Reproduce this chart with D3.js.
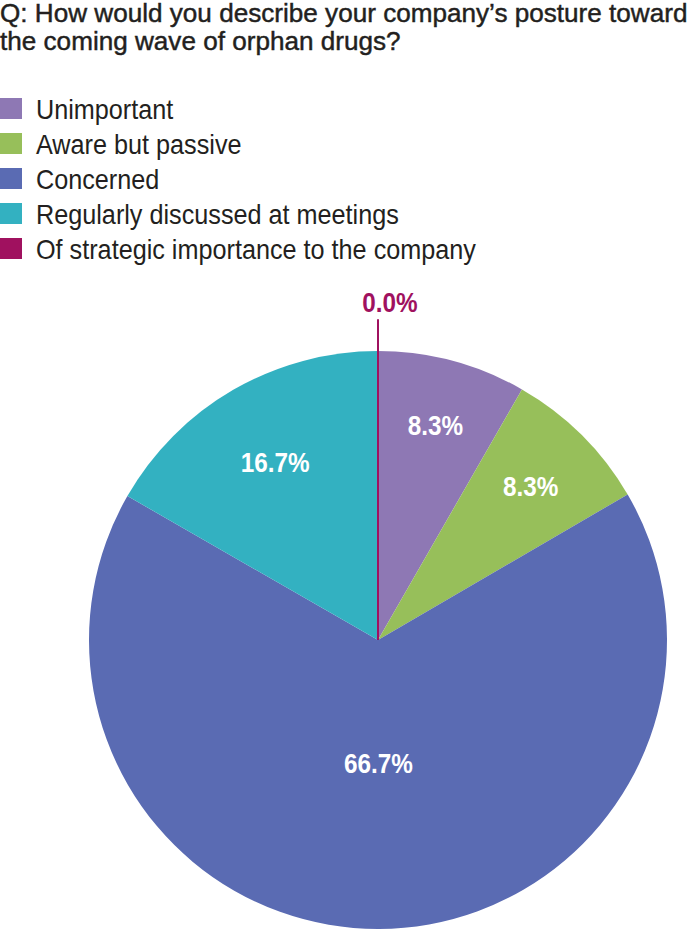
<!DOCTYPE html>
<html>
<head>
<meta charset="utf-8">
<script src="https://cdn.jsdelivr.net/npm/d3@7"></script>
<style>
  body { margin: 0; background: #fff; }
  text { font-family: "Liberation Sans", Arial, sans-serif; }
</style>
</head>
<body>
<div id="graf"></div>
<script>
// Datos
var titulo = [
  "Q: How would you describe your company\u2019s posture toward",
  "the coming wave of orphan drugs?"
];
var categorias = [
  "Unimportant",
  "Aware but passive",
  "Concerned",
  "Regularly discussed at meetings",
  "Of strategic importance to the company"
];
var valores = [8.3, 8.3, 66.7, 16.7, 0.0];
var colores = ["#8e78b4", "#97bf5a", "#5a6bb3", "#33b1c1", "#a0115f"];

// Distancia de las etiquetas al centro (fracción del radio)
var etiquetaR = [0.77, 0.75, 0.425, 0.71, 1.17];

var ancho_total = 691;
var alto_total = 930;
// anchos de referencia para imitar una fuente condensada
var anchoTitulo = 688;
var anchoLeyenda = 440;
var kPct = 0.9;

var svg = d3.select("#graf")
  .append("svg")
  .attr("width", ancho_total)
  .attr("height", alto_total);

// Titulo
var tit = svg.append("g")
  .selectAll("text")
  .data(titulo)
  .join("text")
  .attr("font-size", 25.5)
  .attr("fill", "#231f20")
  .attr("stroke", "#231f20")
  .attr("stroke-width", 0.45)
  .text((d) => d);

var kTit = anchoTitulo / tit.node().getComputedTextLength();
tit.attr("transform", (d, i) => `translate(0, ${21.5 + i * 28}) scale(${kTit}, 1)`);

// Leyenda
var leyenda = svg.append("g").attr("transform", "translate(0, 98)");
var items = leyenda.selectAll("g")
  .data(categorias)
  .join("g")
  .attr("transform", (d, i) => `translate(0, ${i * 35})`);
items.append("rect")
  .attr("width", 22)
  .attr("height", 21)
  .attr("fill", (d, i) => colores[i]);
var txtLey = items.append("text")
  .attr("font-size", 27.5)
  .attr("fill", "#231f20")
  .text((d) => d);

var largo = d3.max(txtLey.nodes(), (n) => n.getComputedTextLength());
var kLey = anchoLeyenda / largo;
txtLey.attr("transform", `translate(36, 21) scale(${kLey}, 1)`);

// Pastel
var cx = 378, cy = 640, radio = 289;
var g = svg.append("g").attr("transform", `translate(${cx}, ${cy})`);

var pie = d3.pie().sort(null).value((d) => d)(valores);
var arco = d3.arc().innerRadius(0).outerRadius(radio);

g.selectAll("path")
  .data(pie)
  .join("path")
  .attr("fill", (d, i) => colores[i])
  .attr("d", arco);

// Rebanada de 0%: se dibuja como línea
pie.forEach((d, i) => {
  if (d.value === 0) {
    var a = d.startAngle;
    var r1 = radio * 1.11;
    g.append("line")
      .attr("x1", 0).attr("y1", 0)
      .attr("x2", r1 * Math.sin(a))
      .attr("y2", -r1 * Math.cos(a))
      .attr("stroke", colores[i])
      .attr("stroke-width", 2);
  }
});

// Etiquetas
g.selectAll("text.pct")
  .data(pie)
  .join("text")
  .attr("class", "pct")
  .attr("transform", (d, i) => {
    var a = (d.startAngle + d.endAngle) / 2;
    var r = radio * etiquetaR[i];
    var dx = d.value === 0 ? 12 : 0;
    return `translate(${r * Math.sin(a) + dx}, ${-r * Math.cos(a)}) scale(${kPct}, 1)`;
  })
  .attr("text-anchor", "middle")
  .attr("dy", "0.36em")
  .attr("font-size", 27)
  .attr("font-weight", "bold")
  .attr("fill", (d, i) => d.value === 0 ? colores[i] : "#fff")
  .text((d) => d.value.toFixed(1) + "%");
</script>
</body>
</html>
